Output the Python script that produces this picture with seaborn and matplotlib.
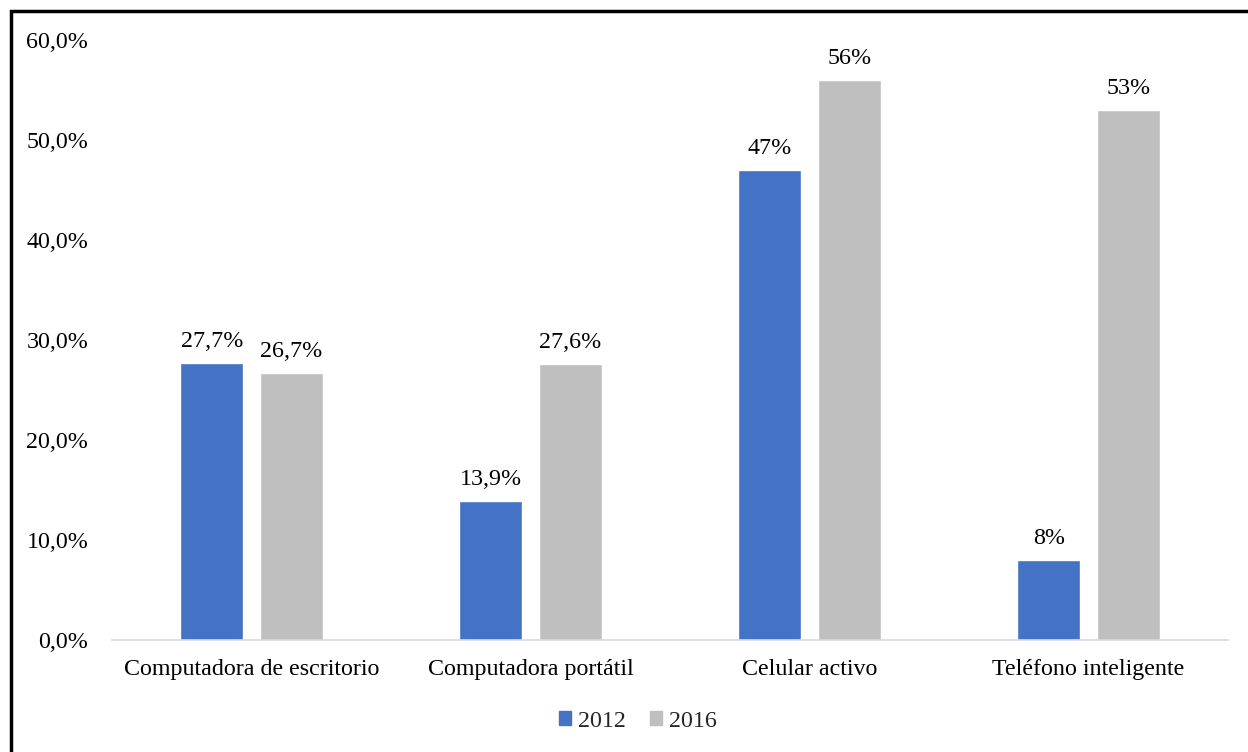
import matplotlib
matplotlib.use("Agg")
import matplotlib.pyplot as plt
import matplotlib.patches as mpatches
from matplotlib.ticker import FuncFormatter
import seaborn as sns
import pandas as pd

categories = ["Computadora de escritorio", "Computadora portátil", "Celular activo", "Teléfono inteligente"]
years = ["2012", "2016"]
values_2012 = [27.7, 13.9, 47, 8]
values_2016 = [26.7, 27.6, 56, 53]
labels_2012 = ["27,7%", "13,9%", "47%", "8%"]
labels_2016 = ["26,7%", "27,6%", "56%", "53%"]
yticks = [0, 10, 20, 30, 40, 50, 60]

colors = {"2012": "#4472C4", "2016": "#BFBFBF"}

df = pd.DataFrame({
    "categoria": categories * 2,
    "anio": [years[0]] * 4 + [years[1]] * 4,
    "valor": values_2012 + values_2016,
    "etiqueta": labels_2012 + labels_2016,
})

sns.set_theme(style="white")
plt.rcParams["font.family"] = ["Liberation Serif", "DejaVu Serif"]

FS = 17.3

fig = plt.figure(figsize=(12.48, 7.52), dpi=100)
ax = fig.add_axes([0.0897, 0.1489, 0.8943, 0.7979])

sns.barplot(data=df, x="categoria", y="valor", hue="anio", palette=colors,
            width=0.57, gap=0.208, ax=ax, legend=False, saturation=1)

ax.set_ylim(0, 60)
ax.set_yticks(yticks)
ax.yaxis.set_major_formatter(FuncFormatter(lambda v, p: f"{v:.1f}".replace(".", ",") + "%"))
ax.set_xlabel("")
ax.set_ylabel("")
ax.tick_params(axis="both", length=0, labelsize=FS, colors="black")
ax.tick_params(axis="y", pad=17)
ax.tick_params(axis="x", pad=14)

for side in ["left", "right", "top"]:
    ax.spines[side].set_visible(False)
ax.spines["bottom"].set_color("#D9D9D9")
ax.spines["bottom"].set_linewidth(1.2)

# value labels above each bar
for container, yr in zip(ax.containers, years):
    texts = df[df["anio"] == yr]["etiqueta"].tolist()
    ax.bar_label(container, labels=texts, padding=8, fontsize=FS, color="black")

handles = [mpatches.Patch(color=colors[y], label=y) for y in years]
fig.legend(handles=handles, loc="center", bbox_to_anchor=(0.511, 0.041), ncol=2,
           frameon=False, fontsize=FS, handlelength=0.5, handleheight=0.5,
           handletextpad=0.3, columnspacing=1.0)

# outer frame of the figure
frame = mpatches.Rectangle((0.0088, -0.05), 1.2, 1.0354, transform=fig.transFigure,
                           fill=False, edgecolor="black", linewidth=2.5)
fig.patches.append(frame)

fig.savefig("out.png", dpi=100)
